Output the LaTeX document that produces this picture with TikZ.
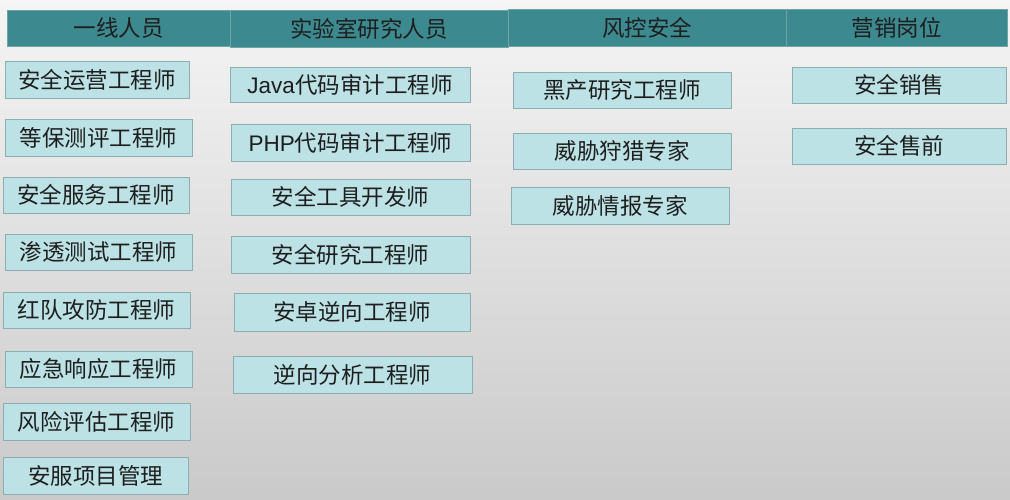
\documentclass[tikz,border=0pt]{standalone}
\usepackage{fontspec}
\setmainfont{Noto Sans CJK SC}
\newfontfamily\latfont{Liberation Sans}
\begin{document}
\begin{tikzpicture}[x=1pt,y=-1pt,
  hdr/.style={draw=hdrline,fill=hdrfill,line width=0.8pt,inner sep=0pt,outer sep=0pt,
    text=txt,font=\fontsize{22.5}{25}\selectfont},
  job/.style={draw=boxline,fill=boxfill,line width=0.9pt,inner sep=0pt,outer sep=0pt,
    text=txt,font=\fontsize{22.5}{25}\selectfont}]
\definecolor{hdrfill}{HTML}{3C8A8F}
\definecolor{hdrline}{HTML}{6FA3A6}
\definecolor{boxfill}{HTML}{BDE2E5}
\definecolor{boxline}{HTML}{8CAEB1}
\definecolor{txt}{HTML}{1E1E1E}
\shade[top color=gray!8, bottom color=gray!42] (0,0) rectangle (1010,500);
\useasboundingbox (0,0) rectangle (1010,500);
% headers
\node[hdr,minimum width=223pt,minimum height=36pt] (h1) at (118.5,28) {一线人员};
\node[hdr,minimum width=278pt,minimum height=37pt] (h2) at (369,28.5) {实验室研究人员};
\node[hdr,minimum width=278pt,minimum height=37pt] (h3) at (647,27.5) {风控安全};
\node[hdr,minimum width=221pt,minimum height=37pt] (h4) at (896.5,27.5) {营销岗位};
% column 1
\node[job,minimum width=184pt,minimum height=37pt] (a1) at (97,79.5) {安全运营工程师};
\node[job,minimum width=187pt,minimum height=37pt] (a2) at (98.5,137.5) {等保测评工程师};
\node[job,minimum width=186pt,minimum height=36pt] (a3) at (96,195) {安全服务工程师};
\node[job,minimum width=187pt,minimum height=36pt] (a4) at (98.5,252) {渗透测试工程师};
\node[job,minimum width=187pt,minimum height=36pt] (a5) at (96.5,310) {红队攻防工程师};
\node[job,minimum width=187pt,minimum height=36pt] (a6) at (98.5,369) {应急响应工程师};
\node[job,minimum width=187pt,minimum height=37pt] (a7) at (96.5,421.5) {风险评估工程师};
\node[job,minimum width=185pt,minimum height=37pt] (a8) at (95.5,475.5) {安服项目管理};
% column 2
\node[job,minimum width=240pt,minimum height=35pt] (b1) at (350,84.5) {{\latfont Java}代码审计工程师};
\node[job,minimum width=239pt,minimum height=37pt] (b2) at (350.5,142.5) {{\latfont PHP}代码审计工程师};
\node[job,minimum width=239pt,minimum height=36pt] (b3) at (350.5,197) {安全工具开发师};
\node[job,minimum width=239pt,minimum height=37pt] (b4) at (350.5,254.5) {安全研究工程师};
\node[job,minimum width=236pt,minimum height=38pt] (b5) at (352,312) {安卓逆向工程师};
\node[job,minimum width=239pt,minimum height=37pt] (b6) at (352.5,374.5) {逆向分析工程师};
% column 3
\node[job,minimum width=218pt,minimum height=36pt] (c1) at (622,90) {黑产研究工程师};
\node[job,minimum width=218pt,minimum height=36pt] (c2) at (622,151) {威胁狩猎专家};
\node[job,minimum width=218pt,minimum height=37pt] (c3) at (620,205.5) {威胁情报专家};
% column 4
\node[job,minimum width=214pt,minimum height=36pt] (d1) at (899,85) {安全销售};
\node[job,minimum width=214pt,minimum height=36pt] (d2) at (899,146) {安全售前};
\end{tikzpicture}
\end{document}
